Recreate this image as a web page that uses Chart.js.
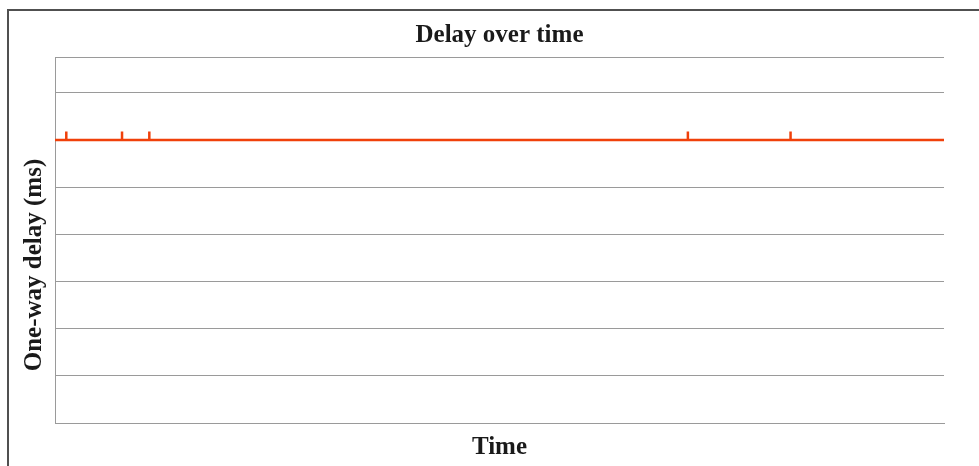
<!DOCTYPE html>
<html>
<head>
<meta charset="utf-8">
<script src="https://cdn.jsdelivr.net/npm/chart.js@4/dist/chart.umd.min.js"></script>
<style>
  html, body { margin: 0; padding: 0; background: #fff; overflow: hidden; }
  .frame { position: absolute; left: 7px; top: 9px; width: 1100px; height: 600px; border: 2px solid #505050; }
  .wrap { position: absolute; left: 0; top: 0; width: 979px; height: 466px; }
</style>
</head>
<body>
<div class="frame"></div>
<div class="wrap"><canvas id="delayChart" width="979" height="466"></canvas></div>
<script>
// time (s) and one-way delay (ms) samples
const times  = [0, 1.27, 1.27, 1.27, 7.54, 7.54, 7.54, 10.61, 10.61, 10.61, 71.19, 71.19, 71.19, 82.74, 82.74, 82.74, 100];
const delays = [60, 60, 61.8, 60, 60, 61.8, 60, 60, 61.8, 60, 60, 61.8, 60, 60, 61.8, 60, 60];

const titleText = 'Delay over time';
const xTitle = 'Time';
// trailing spaces push the rotated label a bit lower, like the original
const yTitle = 'One-way delay (ms)        ';

const serif = { family: '"Liberation Serif", "Times New Roman", serif', size: 25, weight: 'bold' };

const points = times.map((t, i) => ({ x: t, y: delays[i] }));

const ctx = document.getElementById('delayChart').getContext('2d');
new Chart(ctx, {
  type: 'line',
  data: {
    datasets: [{
      data: points,
      borderColor: '#f0400a',
      borderWidth: 2.5,
      borderJoinStyle: 'bevel',
      pointRadius: 0,
      tension: 0,
      fill: false
    }]
  },
  options: {
    responsive: false,
    animation: false,
    layout: { padding: { left: 20, right: 0, top: 0, bottom: 0 } },
    plugins: {
      legend: { display: false },
      tooltip: { enabled: false },
      title: {
        display: true,
        text: titleText,
        color: '#1a1a1a',
        font: serif,
        padding: { top: 21, bottom: 6 }
      }
    },
    scales: {
      x: {
        type: 'linear',
        min: 0,
        max: 100,
        grid: { display: false, drawTicks: false },
        border: { display: true, color: '#9a9a9a', width: 1 },
        ticks: { display: false },
        title: { display: true, text: xTitle, color: '#1a1a1a', font: serif, padding: { top: 0, bottom: 3 } },
        afterFit: (s) => { s.height = 43; }
      },
      y: {
        min: 0,
        max: 77.6,
        grid: { color: '#9a9a9a', lineWidth: 1, drawTicks: false },
        border: { display: true, color: '#9a9a9a', width: 1 },
        ticks: { display: false, stepSize: 10 },
        title: { display: true, text: yTitle, color: '#1a1a1a', font: serif, padding: { top: 0, bottom: 0 } },
        afterFit: (s) => { s.width = 35; }
      },
      // empty right-hand strip so the title stays centred over the plot
      yRight: {
        position: 'right',
        grid: { display: false, drawTicks: false },
        border: { display: false },
        ticks: { display: false },
        afterFit: (s) => { s.width = 35; }
      }
    }
  }
});
</script>
</body>
</html>
